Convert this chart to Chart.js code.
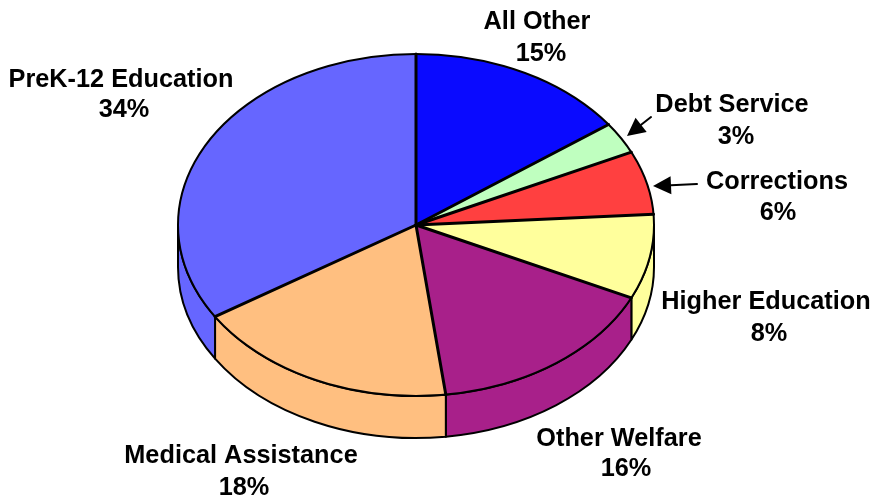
<!DOCTYPE html>
<html>
<head>
<meta charset="utf-8">
<title>Budget shares</title>
<script src="https://cdn.jsdelivr.net/npm/chart.js@4"></script>
<style>
  html, body { margin: 0; padding: 0; background: #fff; }
  #wrap { position: relative; width: 871px; height: 497px; }
</style>
</head>
<body>
<div id="wrap"><canvas id="pieChart" width="871" height="497"></canvas></div>
<script>
var categories = ["All Other", "Debt Service", "Corrections", "Higher Education", "Other Welfare", "Medical Assistance", "PreK-12 Education"];
var shares = [15, 3, 6, 8, 16, 18, 34];
var sliceColors = ["#0a0aff", "#bfffbf", "#ff4040", "#ffff9c", "#a8208a", "#ffbf80", "#6666ff"];

// where each name / percent line is centred
var nameCenters = [[537, 22], [732, 105], [777, 182], [766, 302], [619, 439], [241, 456], [121, 80]];
var shareCenters = [[541, 54], [736, 137], [778, 213], [769, 334], [626, 469], [244, 488], [124, 110]];
// leader arrows [tailX, tailY, tipX, tipY]
var arrows = [[651, 117, 627, 136], [697, 184, 653, 186]];

var centerY = 225;
var squash = 171 / 238;
var depth = 42;

function drawWall(ctx, arc) {
  var a0 = Math.max(arc.startAngle, 0);
  var a1 = Math.min(arc.endAngle, Math.PI);
  if (a1 <= a0) return;
  var r = arc.outerRadius, ry = r * squash;
  ctx.beginPath();
  ctx.ellipse(arc.x, centerY, r, ry, 0, a0, a1);
  ctx.ellipse(arc.x, centerY + depth, r, ry, 0, a1, a0, true);
  ctx.closePath();
  ctx.fillStyle = arc.options.backgroundColor;
  ctx.fill();
  ctx.lineWidth = 2;
  ctx.strokeStyle = "#000";
  ctx.lineJoin = "round";
  ctx.stroke();
}

function drawArrow(ctx, a) {
  var ang = Math.atan2(a[3] - a[1], a[2] - a[0]);
  var hx = a[2] - 18 * Math.cos(ang), hy = a[3] - 18 * Math.sin(ang);
  ctx.strokeStyle = "#000";
  ctx.fillStyle = "#000";
  ctx.lineWidth = 2;
  ctx.beginPath();
  ctx.moveTo(a[0], a[1]);
  ctx.lineTo(hx, hy);
  ctx.stroke();
  ctx.beginPath();
  ctx.moveTo(a[2], a[3]);
  ctx.lineTo(hx - 9 * Math.sin(ang), hy + 9 * Math.cos(ang));
  ctx.lineTo(hx + 9 * Math.sin(ang), hy - 9 * Math.cos(ang));
  ctx.closePath();
  ctx.fill();
}

var tiltPlugin = {
  id: "tilt",
  beforeDatasetsDraw: function (chart) {
    var ctx = chart.ctx;
    var arcs = chart.getDatasetMeta(0).data;
    ctx.save();
    arcs.forEach(function (arc) { drawWall(ctx, arc); });
    ctx.restore();
    // top face: squash the circle into an ellipse
    ctx.save();
    ctx.translate(0, centerY);
    ctx.scale(1, squash);
    ctx.translate(0, -arcs[0].y);
  },
  afterDatasetsDraw: function (chart) {
    var ctx = chart.ctx;
    ctx.restore();
    var arcs = chart.getDatasetMeta(0).data;
    ctx.save();
    ctx.strokeStyle = "#000";
    ctx.lineCap = "round";
    // rim of the top face
    ctx.lineWidth = 2;
    ctx.beginPath();
    ctx.ellipse(arcs[0].x, centerY, arcs[0].outerRadius, arcs[0].outerRadius * squash, 0, 0, Math.PI * 2);
    ctx.stroke();
    // spokes between the slices
    ctx.lineWidth = 3;
    arcs.forEach(function (arc) {
      ctx.beginPath();
      ctx.moveTo(arc.x, centerY);
      ctx.lineTo(arc.x + arc.outerRadius * Math.cos(arc.startAngle),
                 centerY + arc.outerRadius * squash * Math.sin(arc.startAngle));
      ctx.stroke();
    });
    arrows.forEach(function (a) { drawArrow(ctx, a); });

    ctx.fillStyle = "#000";
    ctx.font = "bold 25.3px 'Liberation Sans', Arial, sans-serif";
    ctx.textAlign = "center";
    ctx.textBaseline = "middle";
    categories.forEach(function (name, i) {
      ctx.fillText(name, nameCenters[i][0], nameCenters[i][1]);
      ctx.fillText(shares[i] + "%", shareCenters[i][0], shareCenters[i][1]);
    });
    ctx.restore();
  }
};

new Chart(document.getElementById("pieChart"), {
  type: "pie",
  data: {
    labels: categories,
    datasets: [{ data: shares, backgroundColor: sliceColors, borderWidth: 0 }]
  },
  options: {
    responsive: false,
    animation: false,
    layout: { padding: { left: 0, right: 39, top: 10.5, bottom: 10.5 } },
    plugins: { legend: { display: false }, tooltip: { enabled: false } }
  },
  plugins: [tiltPlugin]
});
</script>
</body>
</html>
